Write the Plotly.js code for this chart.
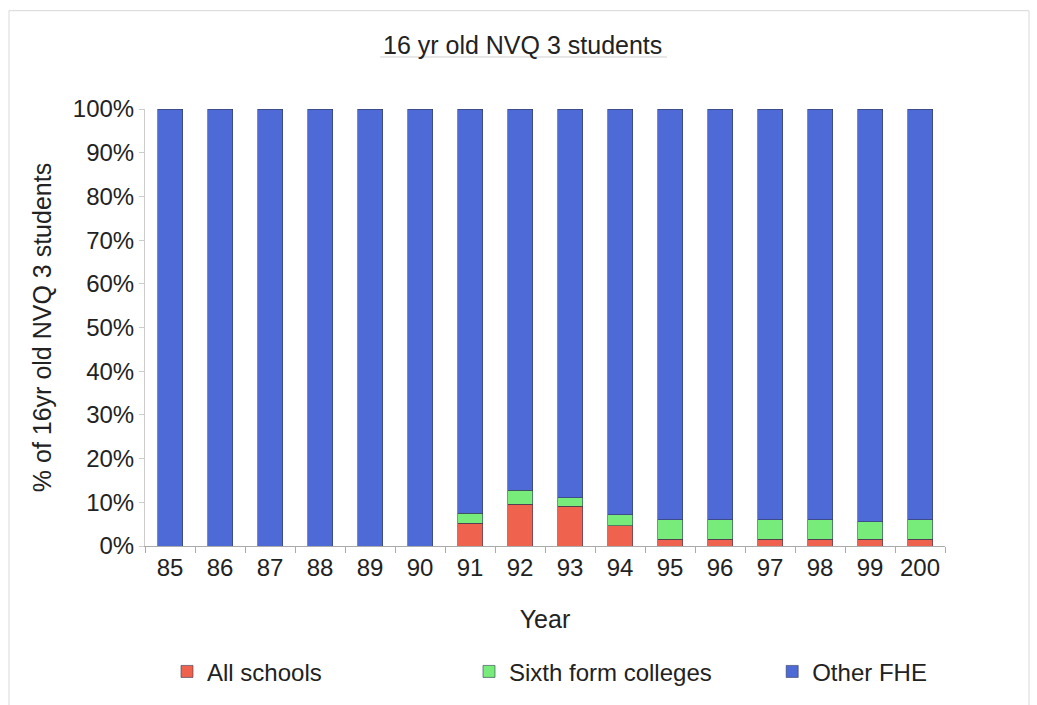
<!DOCTYPE html>
<html><head><meta charset="utf-8">
<script src="https://cdn.plot.ly/plotly-3.0.1.min.js"></script>
<style>html,body{margin:0;padding:0;background:#fff}#chart{width:1037px;height:705px}</style>
</head><body><div id="chart"></div>
<script>
const years = ["85","86","87","88","89","90","91","92","93","94","95","96","97","98","99","200"];
const allSchools = [0,0,0,0,0,0,5.2,9.6,9.1,4.6,1.6,1.6,1.6,1.6,1.6,1.6];
const sixthForm = [0,0,0,0,0,0,2.3,3.2,1.9,2.5,4.4,4.4,4.4,4.4,4.0,4.4];
const otherFHE = [100,100,100,100,100,100,92.5,87.2,89.0,92.9,94.0,94.0,94.0,94.0,94.4,94.0];
const seriesNames = ["All schools","Sixth form colleges","Other FHE"];
const colors = ["#EF634E","#78EC7A","#4E6AD6"];
const legendIds = ["legend","legend2","legend3"];
const legendX = [0.0275, 0.405, 0.784];

const line = {color:"#333a55", width:0.6};
const data = [allSchools, sixthForm, otherFHE].map((v,i)=>({
  type:"bar", x:years, y:v, name:seriesNames[i], legend:legendIds[i],
  marker:{color:colors[i], line:line}, hoverinfo:"y+name"
}));

const layout = {
  width:1037, height:705,
  margin:{l:145, r:92, t:109, b:158},
  barmode:"stack", bargap:0.5,
  paper_bgcolor:"#fff", plot_bgcolor:"#fff",
  font:{family:"Liberation Sans, Arial, sans-serif", color:"#222", size:24},
  title:{text:"16 yr old NVQ 3 students", x:0.504, xanchor:"center", y:0.936, yanchor:"middle", font:{size:25, color:"#222"}},
  xaxis:{type:"category", title:{text:"Year", font:{size:25}, standoff:30},
    showline:true, linecolor:"#aaa", linewidth:1, ticks:"outside", tickson:"boundaries",
    ticklen:6, tickcolor:"#aaa", tickfont:{size:24}, showgrid:false},
  yaxis:{range:[0,100], dtick:10, ticksuffix:"%", title:{text:"% of 16yr old NVQ 3 students", font:{size:25}, standoff:14},
    showline:true, linecolor:"#ccc", linewidth:1, ticks:"outside", ticklen:5, tickcolor:"#ccc",
    tickfont:{size:24}, showgrid:false, zeroline:false},
  showlegend:true,
  shapes:[
    {type:"line", xref:"paper", yref:"paper", x0:0.294, x1:0.6525, y0:1.119, y1:1.119, line:{color:"#cfcfcf", width:1}},
    {type:"rect", xref:"paper", yref:"paper", x0:-0.17, x1:1.105, y0:-0.37, y1:1.225, line:{color:"#d8d8d8", width:1}}
  ]
};
legendIds.forEach((id,i)=>{
  layout[id] = {orientation:"h", x:legendX[i], xanchor:"left", y:-0.285, yanchor:"middle",
    font:{size:24}, bgcolor:"rgba(0,0,0,0)"};
});
Plotly.newPlot("chart", data, layout, {displayModeBar:false, staticPlot:true});
</script></body></html>
